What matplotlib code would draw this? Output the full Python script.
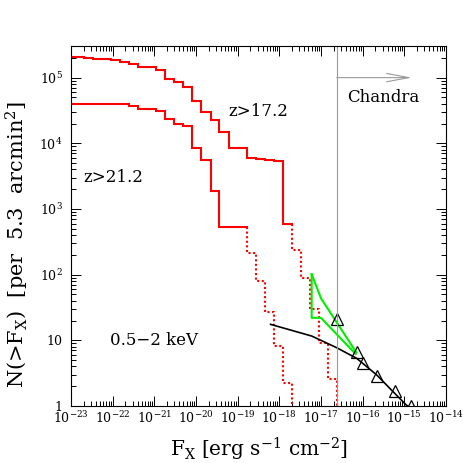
import numpy as np
import matplotlib
matplotlib.use('Agg')
import matplotlib.pyplot as plt
from matplotlib.ticker import FixedLocator, LogLocator, NullFormatter, FixedFormatter

plt.rcParams['font.family'] = ['DejaVu Serif']
plt.rcParams['mathtext.fontset'] = 'dejavuserif'

# ---------------- data ----------------
# log10 flux bin edges (erg s^-1 cm^-2)
bin_edges_log = [-23.20, -22.69, -22.48, -22.26, -22.04, -21.83, -21.61, -21.39, -21.17, -20.96,
                 -20.74, -20.52, -20.31, -20.09, -19.87, -19.65, -19.44, -19.22, -19.00, -18.78,
                 -18.57, -18.35, -18.13, -17.92, -17.70, -17.48, -17.26, -17.05, -16.83, -16.61]

# N(>F) for z>17.2 (one value per bin)
n_z172 = [2.03e5, 1.97e5, 1.95e5, 1.91e5, 1.85e5, 1.74e5, 1.60e5, 1.46e5, 1.46e5, 1.30e5,
          9.48e4, 8.45e4, 7.24e4, 4.39e4, 3.01e4, 2.25e4, 1.47e4, 8.36e3, 8.36e3, 5.89e3,
          5.82e3, 5.55e3, 5.36e3, 589, 237, 89.7, 29.9, 9.18, 2.58]
n_solid_z172 = 24

# N(>F) for z>21.2
n_z212 = [3.91e4, 3.91e4, 3.91e4, 3.91e4, 3.91e4, 3.91e4, 3.75e4, 3.28e4, 3.28e4, 3.09e4,
          2.31e4, 1.96e4, 1.83e4, 8.36e3, 5.55e3, 1.91e3, 531, 531, 531, 215,
          80.7, 27.2, 8.28, 2.26]
n_solid_z212 = 19

# green band (upper and lower boundaries)
green_upper_logf = [-17.224, -17.00, -16.15]
green_upper_n = [102, 43.6, 6.5]
green_lower_logf = [-17.224, -17.224, -17.00, -16.17]
green_lower_n = [102, 22, 22, 6.2]

# black curve (observed counts)
black_logf = [-18.21, -17.22, -16.62, -16.30, -16.14, -15.66, -15.27, -14.95, -14.92]
black_n = [17.5, 11.6, 7.7, 6.0, 5.3, 2.96, 1.65, 1.03, 1.0]

# triangles
tri_logf = [-16.61, -16.14, -16.00, -15.65, -15.22, -14.84]
tri_n = [20.9, 6.7, 4.47, 2.9, 1.69, 1.0]

chandra_logf = -16.62
chandra_arrow_end_logf = -14.82
chandra_arrow_n = 1e5

x_major_exp = list(range(-23, -13))
y_major = [1, 10, 100, 1e3, 1e4, 1e5]
y_major_labels = ['1', '10', r'$10^2$', r'$10^3$', r'$10^4$', r'$10^5$']

# ---------------- figure ----------------
fig = plt.figure(figsize=(4.63, 4.63), dpi=100)
ax = fig.add_axes([71/463, 1-406/463, 375/463, 360/463])
ax.set_xscale('log')
ax.set_yscale('log')
ax.set_xlim(1e-23, 1e-14)
ax.set_ylim(1, 3.03e5)

edges = 10.0 ** np.array(bin_edges_log)


def steps(vals, n_solid):
    xs, ys = [], []
    for i in range(n_solid):
        xs += [edges[i], edges[i + 1]]
        ys += [vals[i], vals[i]]
    xd, yd = [edges[n_solid]], [vals[n_solid - 1]]
    for i in range(n_solid, len(vals)):
        xd += [edges[i], edges[i + 1]]
        yd += [vals[i], vals[i]]
    xd.append(edges[len(vals)])
    yd.append(0.3)
    return xs, ys, xd, yd


red = '#ff0000'
for vals, ns in [(n_z172, n_solid_z172), (n_z212, n_solid_z212)]:
    xs, ys, xd, yd = steps(vals, ns)
    ax.plot(xs, ys, color=red, lw=1.5, solid_joinstyle='miter')
    ax.plot(xd, yd, color=red, lw=1.5, linestyle=(0, (1, 1.2)))

ax.plot(10.0 ** np.array(green_upper_logf), green_upper_n, color='#00ee00', lw=1.5)
ax.plot(10.0 ** np.array(green_lower_logf), green_lower_n, color='#00ee00', lw=1.5)

ax.plot(10.0 ** np.array(black_logf), black_n, color='black', lw=1.2)
ax.plot(10.0 ** np.array(tri_logf), tri_n, linestyle='none', marker='^', ms=8,
        mfc='none', mec='black', mew=0.9)

ax.axvline(10 ** chandra_logf, color='0.6', lw=0.8)
ax.annotate('', xy=(10 ** chandra_arrow_end_logf, chandra_arrow_n),
            xytext=(10 ** chandra_logf, chandra_arrow_n),
            arrowprops=dict(arrowstyle='->,head_length=1.6,head_width=0.3',
                            color='0.6', lw=0.8, shrinkA=0, shrinkB=0))

ax.text(10 ** -15.51, 4.96e4, 'Chandra', ha='center', va='center', fontsize=12)
ax.text(10 ** -18.51, 3.1e4, 'z>17.2', ha='center', va='center', fontsize=12)
ax.text(10 ** -21.98, 3.0e3, 'z>21.2', ha='center', va='center', fontsize=12)
ax.text(10 ** -21.02, 9.8, '0.5\u22122 keV', ha='center', va='center', fontsize=12)

# ticks
ax.xaxis.set_major_locator(FixedLocator([10.0 ** e for e in x_major_exp]))
ax.xaxis.set_major_formatter(FixedFormatter([r'$10^{%d}$' % e for e in x_major_exp]))
ax.xaxis.set_minor_locator(LogLocator(base=10, subs=np.arange(2, 10), numticks=100))
ax.xaxis.set_minor_formatter(NullFormatter())
ax.yaxis.set_major_locator(FixedLocator(y_major))
ax.yaxis.set_major_formatter(FixedFormatter(y_major_labels))
ax.yaxis.set_minor_locator(LogLocator(base=10, subs=np.arange(2, 10), numticks=100))
ax.yaxis.set_minor_formatter(NullFormatter())

ax.tick_params(which='both', direction='in', top=True, right=True, width=0.7)
ax.tick_params(which='major', length=7, labelsize=9)
ax.tick_params(which='minor', length=3.5)
ax.tick_params(axis='x', which='major', pad=3)
ax.tick_params(axis='y', which='major', pad=6)
for s in ax.spines.values():
    s.set_linewidth(0.8)

fig.text(259/463, 1-449/463, r'F$_{\rm X}$ [erg s$^{-1}$ cm$^{-2}$]', ha='center', va='center', fontsize=14.5)
fig.text(17/463, 1-245/463, r'N(>F$_{\rm X}$)  [per  5.3  arcmin$^2$]', ha='center', va='center',
         rotation=90, fontsize=15)

fig.savefig('out.png', dpi=100)
